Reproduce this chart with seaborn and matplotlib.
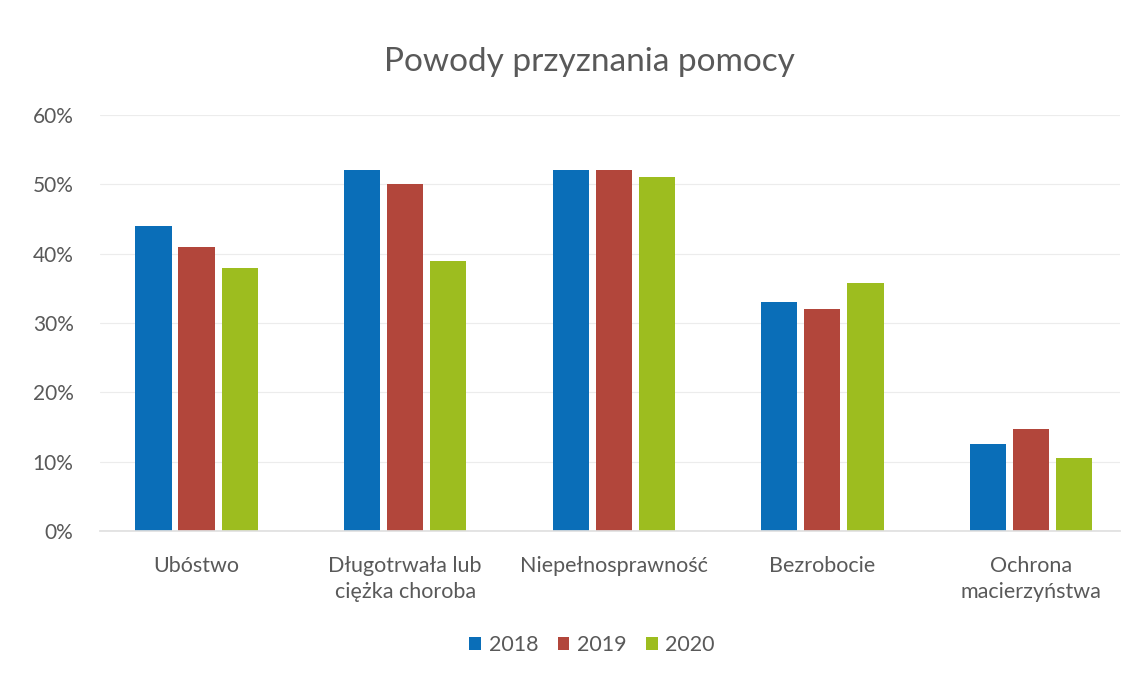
import matplotlib
matplotlib.use("Agg")
import matplotlib.pyplot as plt
import seaborn as sns
import pandas as pd
from matplotlib.ticker import PercentFormatter, MultipleLocator

categories = ["Ubóstwo", "Długotrwała lub\nciężka choroba", "Niepełnosprawność", "Bezrobocie", "Ochrona\nmacierzyństwa"]
years = ["2018", "2019", "2020"]
v2018 = [44, 52, 52, 33, 12.6]
v2019 = [41, 50, 52, 32, 14.7]
v2020 = [38, 39, 51, 35.7, 10.6]
colors = ["#0a6eb8", "#b2463b", "#9dbd1f"]

rows = []
for y, vals in zip(years, [v2018, v2019, v2020]):
    for c, v in zip(categories, vals):
        rows.append({"cat": c, "year": y, "val": v})
df = pd.DataFrame(rows)

sns.set_theme(style="white")
plt.rcParams['font.family'] = ['Lato', 'DejaVu Sans']
txt = "#595959"

fig = plt.figure(figsize=(11.33, 6.75), dpi=100)
ax = fig.add_axes([100 / 1133, 1 - 531 / 675, 1020 / 1133, 416 / 675])
sns.barplot(data=df, x="cat", y="val", hue="year", palette=colors, width=0.62, gap=0.16,
            ax=ax, saturation=1, edgecolor="none")
ax.set_ylim(0, 60)
ax.yaxis.set_major_locator(MultipleLocator(10))
ax.yaxis.set_major_formatter(PercentFormatter(decimals=0))
ax.grid(axis="y", color="#ececec", linewidth=0.8)
ax.set_axisbelow(True)
for s in ["top", "right", "left"]:
    ax.spines[s].set_visible(False)
ax.spines["bottom"].set_color("#e0e0e0")
ax.set_xlabel("")
ax.set_ylabel("")
ax.tick_params(axis="both", colors=txt, length=0)
ax.tick_params(axis="y", labelsize=15, pad=19)
ax.tick_params(axis="x", labelsize=15.5, pad=18)
for lab in ax.get_xticklabels():
    lab.set_linespacing(1.35)
ax.set_xlim(-0.463, 4.427)
fig.text(589 / 1133, 1 - 62 / 675, "Powody przyznania pomocy", ha="center", va="center", fontsize=24, color=txt)
leg = ax.legend(loc="center", bbox_to_anchor=((592 - 100) / 1020, -(645 - 531) / 416), ncol=3, frameon=False,
                fontsize=15.5, handlelength=0.55, handleheight=0.55, handletextpad=0.35, columnspacing=0.9)
for t in leg.get_texts():
    t.set_color(txt)
fig.savefig("out.png", dpi=100, facecolor="white")
